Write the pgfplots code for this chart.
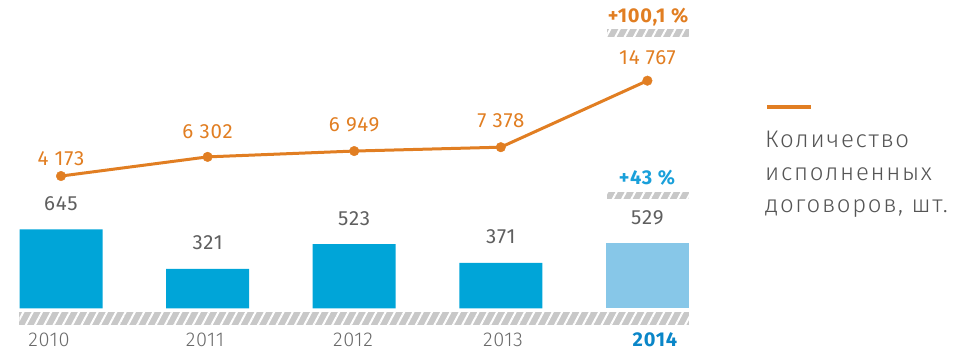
\documentclass[border=0pt]{standalone}
\usepackage{pgfplots}
\pgfplotsset{compat=1.18}
\usepackage{pgfplotstable}
\usepackage{fontspec}
\setmainfont{Fira Sans}[LetterSpace=4]
\newfontfamily\light{Fira Sans Light}[LetterSpace=3]
\newfontfamily\leg{Fira Sans Light}[LetterSpace=7]
\usetikzlibrary{patterns.meta}
\definecolor{cOrange}{HTML}{E17E22}
\definecolor{cBlue}{HTML}{00A5D8}
\definecolor{cLight}{HTML}{87C7E8}
\definecolor{cBlueTxt}{HTML}{1AA0DA}
\definecolor{cBlueYear}{HTML}{0A86C8}
\definecolor{cNum}{HTML}{5F5F5F}
\definecolor{cYear}{HTML}{6A6A6A}
\definecolor{cLeg}{HTML}{555555}
\definecolor{cBand}{HTML}{C8C8C8}

\pgfplotstableread{
x y
0 645
1 321
2 523
3 371
}\bars
\pgfplotstableread{
x y
4 529
}\barlast
\pgfplotstableread{
x y dy
0 4173 17
1 6302 25
2 6949 26
3 7378 27
4 14767 23
}\linedata

\pgfplotsset{base/.style={scale only axis, width=956pt, height=356pt,
  at={(0pt,0pt)}, anchor=south west, xmin=-0.4161, xmax=6.105,
  hide axis, clip=false,
  /pgf/number format/assume math mode=true,
  /pgf/number format/fixed,
  /pgf/number format/1000 sep={\ }}}

\newcommand{\band}[4]{%
  \fill[cBand] (#1,#2) rectangle (#3,#4);
  \fill[pattern={Lines[angle=62,distance=8.2pt,line width=2pt]},pattern color=white] (#1,#2) rectangle (#3,#4);}

\begin{document}
\begin{tikzpicture}[x=1pt,y=1pt]
\useasboundingbox (0,0) rectangle (956,356);
% bars
\begin{axis}[base, ymin=-389.4, ymax=2516.7, ybar, bar width=83pt, bar shift=0pt,
  nodes near coords,
  every node near coord/.append style={anchor=center, yshift=26pt, text=cNum,
    font=\fontsize{20.5}{24}\selectfont}]
\addplot[fill=cBlue, draw=none] table[x=x,y=y]{\bars};
\addplot[fill=cLight, draw=none] table[x=x,y=y]{\barlast};
\end{axis}
% line
\begin{axis}[base, ymin=-15822, ymax=23733]
\addplot[cOrange, line width=3pt, mark=*, mark size=4.8pt,
  mark options={line width=0.4pt, fill=cOrange},
  nodes near coords,
  visualization depends on={\thisrow{dy} \as \dy},
  every node near coord/.append style={anchor=center, yshift=\dy pt, text=cOrange,
    font=\fontsize{20.5}{24}\selectfont}]
  table[x=x,y=y]{\linedata};
\end{axis}
% hatched bands
\band{19.3}{31}{689}{43.7}
\band{607}{319}{689}{327}
\band{607}{157}{689}{164}
% annotations
\node[text=cOrange, font=\fontsize{20}{24}\selectfont\bfseries] at (648,339) {+100,1 \%};
\node[text=cBlueTxt, font=\fontsize{20}{24}\selectfont\bfseries] at (647,178) {+43 \%};
% years
\foreach \xx/\yy in {49/2010, 205/2011, 353/2012, 503/2013}
  \node[text=cYear, font=\light\fontsize{20}{24}\selectfont] at (\xx,16.5) {\yy};
\node[text=cBlueYear, font=\fontsize{20}{24}\selectfont\bfseries] at (655,16.5) {2014};
% legend
\draw[cOrange, line width=4pt] (767,249) -- (811,249);
\node[anchor=base west, text=cLeg, font=\leg\fontsize{24}{28}\selectfont, inner sep=0pt] at (765,208) {Количество};
\node[anchor=base west, text=cLeg, font=\leg\fontsize{24}{28}\selectfont, inner sep=0pt] at (765,175) {исполненных};
\node[anchor=base west, text=cLeg, font=\leg\fontsize{24}{28}\selectfont, inner sep=0pt] at (765,143) {договоров, шт.};
\end{tikzpicture}
\end{document}
